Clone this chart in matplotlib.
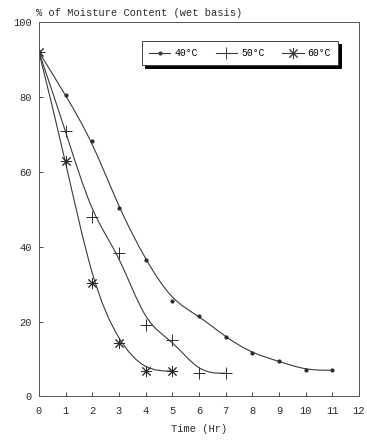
import numpy as np
import matplotlib
matplotlib.use("Agg")
import matplotlib.pyplot as plt
from matplotlib.path import Path
from matplotlib.patches import PathPatch
from matplotlib.lines import Line2D

# drying data
time_40 = [0, 1, 2, 3, 4, 5, 6, 7, 8, 9, 10, 11]
moist_40 = [92, 80.5, 68.2, 50.3, 36.4, 25.4, 21.6, 15.8, 11.5, 9.4, 7.0, 7.0]

time_50 = [0, 1, 2, 3, 4, 5, 6, 7]
moist_50 = [92, 71, 48, 38.3, 19, 15.2, 6.2, 6.2]

time_60 = [0, 1, 2, 3, 4, 5]
moist_60 = [92, 63, 30.2, 14.3, 6.8, 6.8]

series_labels = ["40\u00b0C", "50\u00b0C", "60\u00b0C"]
x_ticks = list(range(0, 13))
y_ticks = [0, 20, 40, 60, 80, 100]

plt.rcParams["font.family"] = ["Liberation Mono", "DejaVu Sans Mono"]
ink = "#2b2b2b"


def smooth_path(xs, ys):
    # clamped cubic b-spline with the points as control points,
    # turned into bezier segments for matplotlib to draw
    p = np.column_stack([xs, ys]).astype(float)
    p = np.vstack([p[:1], p[:1], p, p[-1:], p[-1:]])
    verts = []
    codes = []
    for i in range(1, len(p) - 2):
        a = (p[i - 1] + 4 * p[i] + p[i + 1]) / 6.0
        c1 = (2 * p[i] + p[i + 1]) / 3.0
        c2 = (p[i] + 2 * p[i + 1]) / 3.0
        b = (p[i] + 4 * p[i + 1] + p[i + 2]) / 6.0
        if not verts:
            verts.append(a)
            codes.append(Path.MOVETO)
        verts += [c1, c2, b]
        codes += [Path.CURVE4] * 3
    return Path(verts, codes)


fig = plt.figure(figsize=(3.67, 4.40), dpi=100)
ax = fig.add_axes([0.106, 0.099, 0.872, 0.851])

markers = [dict(marker="o", ms=2.0), dict(marker="+", ms=9, mew=0.7),
           dict(marker=(8, 2, 0), ms=8, mew=0.7)]
data = [(time_40, moist_40), (time_50, moist_50), (time_60, moist_60)]

handles = []
for (xs, ys), mk, lab in zip(data, markers, series_labels):
    ax.add_patch(PathPatch(smooth_path(xs, ys), fill=False, ec="#3a3a3a", lw=0.8))
    ax.plot(xs, ys, ls="none", color=ink, **mk)
    handles.append(Line2D([], [], color="#3a3a3a", lw=0.8, label=lab, **mk))

ax.set_xlim(0, 12)
ax.set_ylim(0, 100)
ax.set_xticks(x_ticks)
ax.set_yticks(y_ticks)
ax.tick_params(direction="in", length=3, width=0.6, labelsize=7.5,
               colors=ink)
ax.tick_params(axis="x", pad=7)
ax.tick_params(axis="y", pad=5)
for s in ax.spines.values():
    s.set_linewidth(0.7)
    s.set_color("#555555")

ax.set_xlabel("Time (Hr)", fontsize=7.5, color=ink, labelpad=6)
ax.text(-0.01, 1.012, "% of Moisture Content (wet basis)", transform=ax.transAxes,
        fontsize=7.5, color=ink, ha="left", va="bottom")

leg = ax.legend(handles=handles, ncol=3, loc="lower left",
                bbox_to_anchor=(0.323, 0.885, 0.611, 0.08), mode="expand",
                fontsize=7, frameon=True, fancybox=False,
                shadow={"color": "black", "alpha": 1},
                handlelength=2.2, handletextpad=0.4, columnspacing=1.0,
                borderpad=0.7, borderaxespad=0)
leg.get_frame().set_edgecolor("#444444")
leg.get_frame().set_linewidth(0.7)

fig.savefig("out.png", dpi=100)
